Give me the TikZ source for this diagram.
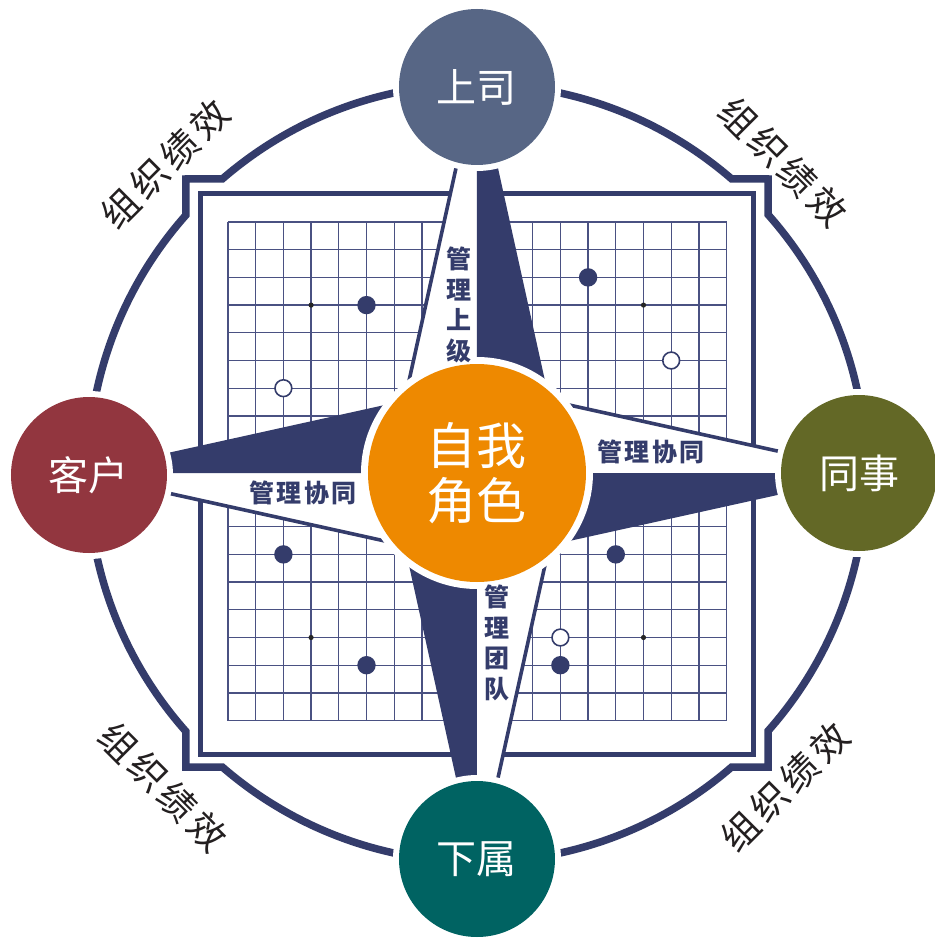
\documentclass[tikz,border=0pt]{standalone}
\usepackage{fontspec}
\setmainfont{Noto Sans CJK SC}
\definecolor{navy}{HTML}{343C6B}
\definecolor{gridc}{HTML}{4A5182}
\definecolor{cboss}{HTML}{576685}
\definecolor{ccust}{HTML}{92363F}
\definecolor{cpeer}{HTML}{636826}
\definecolor{csub}{HTML}{006362}
\definecolor{corange}{HTML}{EE8900}
\definecolor{txtdark}{HTML}{231F20}
\tikzset{
  ring/.style={draw=navy, line width=7.5pt, line join=miter},
  frame/.style={draw=navy, line width=5pt, fill=white},
  gridline/.style={draw=gridc, line width=1.3pt},
  blackstone/.style={fill=navy},
  whitestone/.style={fill=white, draw=navy, line width=1.6pt},
  hoshi/.style={fill=black!85},
  outer/.style={circle, inner sep=0pt, minimum size=156pt, text=white,
    font=\fontsize{40}{46}\selectfont},
  arealabel/.style={text=txtdark, font=\fontsize{37}{44}\selectfont, inner sep=0pt},
  armlabel/.style={text=navy, font=\fontsize{25}{30.5}\selectfont\bfseries, inner sep=0pt, align=center},
}
\newcommand{\wsp}{\hspace{5pt}}
\newcommand{\nsp}{\hspace{2.5pt}}
\begin{document}
\begin{tikzpicture}[x=1pt,y=1pt]
\useasboundingbox (-477,-465) rectangle (458,473);
\clip (-477,-465) rectangle (458,473);
\fill[white] (-477,-465) rectangle (458,473);

% outer ring with stepped notches round the board corners
\draw[ring] (49.1:389) arc[start angle=49.1,end angle=130.9,radius=389]
  -- (-291,294) -- (-291,258)
  arc[start angle=138.4,end angle=221.6,radius=389]
  -- (-291,-294) -- (-254.7,-294)
  arc[start angle=229.1,end angle=310.9,radius=389]
  -- (291,-294) -- (291,-258)
  arc[start angle=318.4,end angle=401.6,radius=389]
  -- (291,294) -- cycle;

% go board
\draw[frame] (-276,-281) rectangle (276,279);
\foreach \i in {0,...,18} {
  \draw[gridline] ({-249+\i*27.7},251) -- ({-249+\i*27.7},{251-18*27.7});
  \draw[gridline] (-249,{251-\i*27.7}) -- ({-249+18*27.7},{251-\i*27.7});
}
\foreach \c/\r in {3/3,15/3,3/15,15/15,9/3,3/9,15/9,9/15,9/9}
  \fill[hoshi] ({-249+\c*27.7},{251-\r*27.7}) circle (2.6);
\foreach \c/\r in {5/3,13/2,2/12,5/16,14/12,12/16}
  \fill[blackstone] ({-249+\c*27.7},{251-\r*27.7}) circle (9.2);
\foreach \c/\r in {2/6,16/5,12/15}
  \draw[whitestone] ({-249+\c*27.7},{251-\r*27.7}) circle (8.4);

% compass arms
\foreach \k in {0,1,2,3} {
  \begin{scope}[rotate=-90*\k]
    \fill[white] (0,0) -- (0,400) -- (-88.4,0) -- cycle;
    \fill[navy] (0,0) -- (0,400) -- (88.4,0) -- cycle;
    \draw[navy, line width=3.6pt] (-75.1,60) -- (-4.4,380);
  \end{scope}
}

% centre circle
\fill[white] (0,0) circle (116);
\node[circle, fill=corange, inner sep=0pt, minimum size=218pt, text=white,
  align=center, font=\fontsize{50}{55}\selectfont] (self) at (0,0) {自我\\角色};

% outer circles
\fill[white] (0,386) circle (84);
\node[outer, fill=cboss] (boss) at (0,386) {上司};
\fill[white] (382,0) circle (84);
\node[outer, fill=cpeer] (peer) at (382,0) {同事};
\fill[white] (0,-386) circle (84);
\node[outer, fill=csub] (sub) at (0,-386) {下属};
\fill[white] (-388,-2) circle (84);
\node[outer, fill=ccust] (cust) at (-388,-2) {客户};

% arm labels
\node[armlabel] (lup) at (-18,168) {管\\理\\上\\级};
\node[armlabel] (ldown) at (20,-170) {管\\理\\团\\队};
\node[armlabel] (lright) at (174,21) {管\nsp 理\nsp 协\nsp 同};
\node[armlabel] (lleft) at (-174,-20) {管\nsp 理\nsp 协\nsp 同};

% organisation labels
\node[arealabel, rotate=45] (o1) at (-312,309) {组\wsp 织\wsp 绩\wsp 效};
\node[arealabel, rotate=-45] (o2) at (306,311) {组\wsp 织\wsp 绩\wsp 效};
\node[arealabel, rotate=-45] (o3) at (-314,-314) {组\wsp 织\wsp 绩\wsp 效};
\node[arealabel, rotate=45] (o4) at (308,-314) {组\wsp 织\wsp 绩\wsp 效};
\end{tikzpicture}
\end{document}
